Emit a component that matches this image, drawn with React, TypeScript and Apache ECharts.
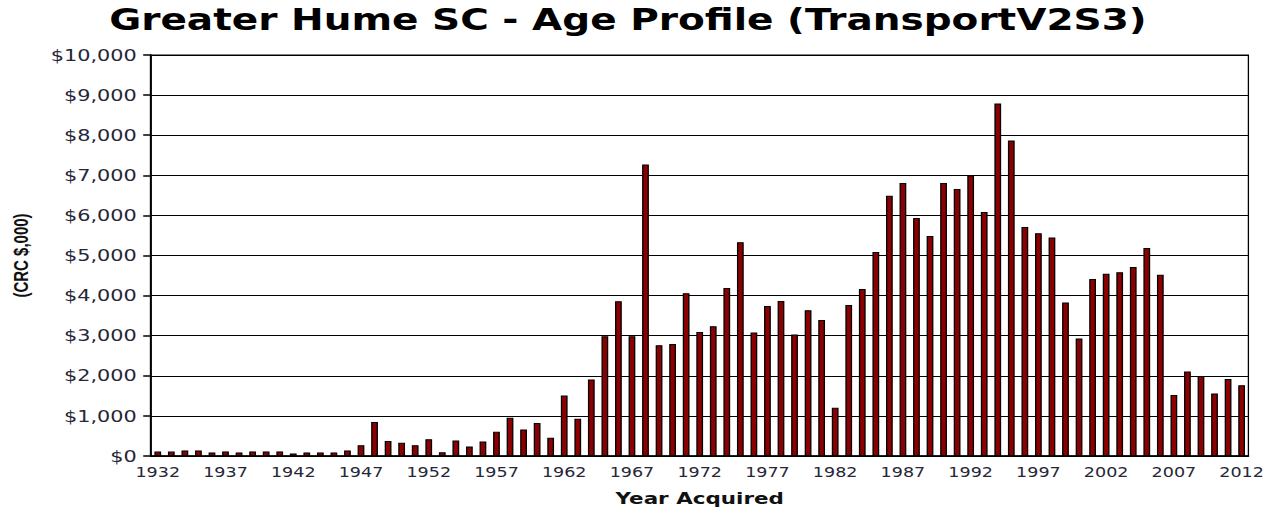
import React, { useEffect, useRef } from "react";
import * as echarts from "echarts";

const years: string[] = [];
for (let y = 1932; y <= 2012; y++) years.push(String(y));

const values: number[] = [
  // 1932-1941
  110, 110, 140, 140, 90, 115, 90, 115, 115, 115,
  // 1942-1951
  65, 90, 90, 90, 140, 270, 845, 377, 328, 270,
  // 1952-1961
  420, 92, 385, 234, 360, 602, 954, 661, 820, 452,
  // 1962-1971
  1506, 929, 1908, 2987, 3858, 2987, 7270, 2762, 2795, 4060,
  // 1972-1981
  3090, 3237, 4191, 5328, 3079, 3743, 3867, 3029, 3635, 3394,
  // 1982-1991
  1203, 3768, 4166, 5087, 6490, 6805, 5934, 5485, 6805, 6660,
  // 1992-2001
  6995, 6087, 8793, 7868, 5712, 5554, 5446, 3830, 2931, 4413,
  // 2002-2011
  4546, 4580, 4713, 5187, 4521, 1524, 2107, 1998, 1557, 1923,
  // 2012
  1765,
];

const titleText = "Greater Hume SC - Age Profile (TransportV2S3)";
const yAxisName = "(CRC $,000)";
const xAxisName = "Year Acquired";

const S = 1.3; // horizontal stretch of the whole picture
const PAGE_W = 1272;
const PAGE_H = 508;
const INNER_W = PAGE_W / S;

export default function App() {
  const ref = useRef<HTMLDivElement>(null);
  useEffect(() => {
    if (!ref.current) return;
    const chart = echarts.init(ref.current, undefined, { renderer: "svg" });
    chart.setOption({
      animation: false,
      backgroundColor: "#ffffff",
      title: {
        text: titleText,
        left: 79,
        top: 0,
        textStyle: {
          fontFamily: "DejaVu Sans",
          fontWeight: "bold",
          fontSize: 30,
          color: "#000",
        },
      },
      grid: {
        left: 151 / S,
        right: INNER_W - 1249 / S,
        top: 55,
        bottom: 52,
        outerBoundsMode: "none",
        containLabel: false,
        show: true,
        borderColor: "#000",
        borderWidth: 1,
      },
      xAxis: {
        type: "category",
        data: years,
        name: xAxisName,
        nameLocation: "middle",
        nameGap: 34,
        nameTextStyle: {
          fontFamily: "DejaVu Sans",
          fontWeight: "bold",
          fontSize: 16.5,
          color: "#111",
        },
        axisLine: { lineStyle: { color: "#000", width: 1.5 } },
        axisTick: { interval: 4, length: 5, lineStyle: { color: "#000", width: 1.5 } },
        axisLabel: {
          interval: 4,
          margin: 9,
          fontFamily: "DejaVu Sans",
          fontSize: 13.5,
          color: "#262636",
        },
        splitLine: { show: false },
      },
      yAxis: {
        type: "value",
        min: 0,
        max: 10000,
        interval: 1000,
        name: yAxisName,
        nameLocation: "middle",
        nameGap: 92,
        nameRotate: 90,
        nameTextStyle: {
          fontFamily: "Liberation Sans, Arial",
          fontWeight: "bold",
          fontSize: 15,
          color: "#111",
        },
        axisLine: { show: true, lineStyle: { color: "#000", width: 1.5 } },
        axisTick: { show: true, length: 6, lineStyle: { color: "#000", width: 1.5 } },
        axisLabel: {
          margin: 11,
          fontFamily: "DejaVu Sans",
          fontSize: 16,
          color: "#262636",
          formatter: (v: number) => "$" + v.toLocaleString("en-US"),
        },
        splitLine: { show: true, lineStyle: { color: "#000", width: 1 } },
      },
      series: [
        {
          type: "bar",
          data: values,
          barWidth: "50%",
          itemStyle: {
            color: "#8b0000",
            borderColor: "#000",
            borderWidth: 1,
          },
        },
      ],
    });
    return () => chart.dispose();
  }, []);
  return (
    <div
      style={{
        position: "absolute",
        left: 0,
        top: 0,
        width: PAGE_W,
        height: PAGE_H,
        overflow: "hidden",
        background: "#fff",
      }}
    >
      <div
        ref={ref}
        style={{
          width: INNER_W,
          height: PAGE_H,
          transform: `scaleX(${S})`,
          transformOrigin: "0 0",
        }}
      />
    </div>
  );
}
